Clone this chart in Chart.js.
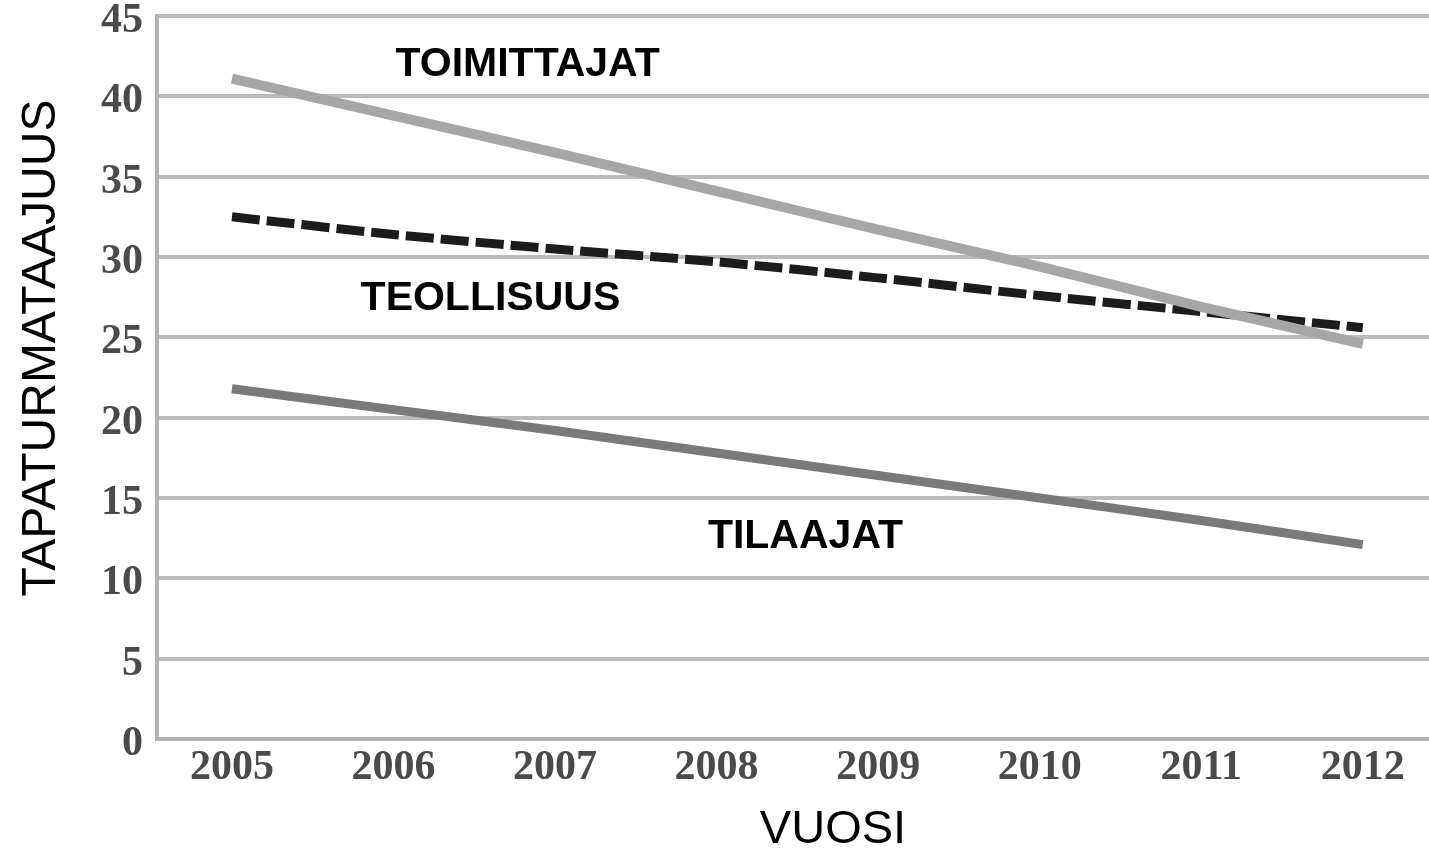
<!DOCTYPE html>
<html>
<head>
<meta charset="utf-8">
<script src="https://cdn.jsdelivr.net/npm/chart.js@4/dist/chart.umd.min.js"></script>
<style>
  html, body { margin: 0; padding: 0; background: #fff; }
  #wrap { width: 1429px; height: 851px; }
</style>
</head>
<body>
<div id="wrap"><canvas id="accidentChart"></canvas></div>
<script>
const years = [2005, 2006, 2007, 2008, 2009, 2010, 2011, 2012];
const toimittajat = [41.1, 38.8, 36.5, 34.1, 31.7, 29.4, 26.9, 24.6];
const teollisuus = [32.5, 31.4, 30.5, 29.7, 28.7, 27.6, 26.6, 25.6];
const tilaajat = [21.8, 20.5, 19.2, 17.8, 16.4, 15.0, 13.6, 12.1];
const yTicks = [0, 5, 10, 15, 20, 25, 30, 35, 40, 45];

// series name labels, placed in data coordinates
const seriesLabels = [
    { text: 'TOIMITTAJAT', x: 2006.83, y: 42.0 },
    { text: 'TEOLLISUUS', x: 2006.6, y: 27.4 },
    { text: 'TILAAJAT', x: 2008.55, y: 12.6 }
];

const labelPlugin = {
    id: 'seriesLabels',
    afterDatasetsDraw(chart) {
        const ctx = chart.ctx;
        ctx.save();
        ctx.font = 'bold 41px "Liberation Sans", Arial, sans-serif';
        ctx.fillStyle = '#000';
        ctx.textAlign = 'center';
        ctx.textBaseline = 'middle';
        seriesLabels.forEach(l => {
            ctx.fillText(l.text, chart.scales.x.getPixelForValue(l.x), chart.scales.y.getPixelForValue(l.y));
        });

        // axis titles (placed like in the original, slightly off-center)
        ctx.font = '47px "Liberation Sans", Arial, sans-serif';
        ctx.fillText('VUOSI', 833, 830);
        ctx.translate(42, 348);
        ctx.rotate(-Math.PI / 2);
        ctx.font = '48px "Liberation Sans", Arial, sans-serif';
        ctx.fillText('TAPATURMATAAJUUS', 0, 0);
        ctx.restore();
    }
};

const toPoints = arr => arr.map((v, i) => ({ x: years[i], y: v }));

const ctx = document.getElementById('accidentChart').getContext('2d');
new Chart(ctx, {
    type: 'line',
    data: {
        datasets: [{
            label: 'TOIMITTAJAT',
            data: toPoints(toimittajat),
            borderColor: '#a6a6a6',
            borderWidth: 10,
            pointRadius: 0,
            tension: 0.3
        }, {
            label: 'TEOLLISUUS',
            data: toPoints(teollisuus),
            borderColor: '#1c1c1c',
            borderWidth: 9,
            borderDash: [28, 7],
            pointRadius: 0,
            tension: 0.3
        }, {
            label: 'TILAAJAT',
            data: toPoints(tilaajat),
            borderColor: '#7a7a7a',
            borderWidth: 9,
            pointRadius: 0,
            tension: 0.3
        }]
    },
    plugins: [labelPlugin],
    options: {
        responsive: true,
        maintainAspectRatio: false,
        animation: false,
        layout: { padding: { top: 16, right: 0, left: 0, bottom: 0 } },
        plugins: {
            legend: { display: false },
            tooltip: { enabled: false }
        },
        scales: {
            x: {
                type: 'linear',
                min: 2004.536,
                max: 2012.41,
                afterBuildTicks(scale) {
                    scale.ticks = years.map(v => ({ value: v }));
                },
                afterFit(scale) {
                    scale.height = 112;
                    scale.paddingLeft = 0;
                    scale.paddingRight = 0;
                },
                grid: { display: false, drawTicks: false },
                border: { display: true, color: '#b3b3b3', width: 4 },
                ticks: {
                    padding: 4,
                    color: '#4a4a4a',
                    maxRotation: 0,
                    font: { family: '"Liberation Serif", "DejaVu Serif", serif', size: 42, weight: 'bold' },
                    callback: v => String(v)
                }
            },
            y: {
                min: 0,
                max: 45,
                afterBuildTicks(scale) {
                    scale.ticks = yTicks.map(v => ({ value: v }));
                },
                afterFit(scale) {
                    scale.width = 157;
                    scale.paddingTop = 0;
                    scale.paddingBottom = 0;
                },
                grid: { color: '#bbbbbb', lineWidth: 4, drawTicks: false },
                border: { display: true, color: '#b3b3b3', width: 4 },
                ticks: {
                    padding: 14,
                    labelOffset: 5,
                    color: '#4a4a4a',
                    font: { family: '"Liberation Serif", "DejaVu Serif", serif', size: 42, weight: 'bold' }
                }
            }
        }
    }
});
</script>
</body>
</html>
